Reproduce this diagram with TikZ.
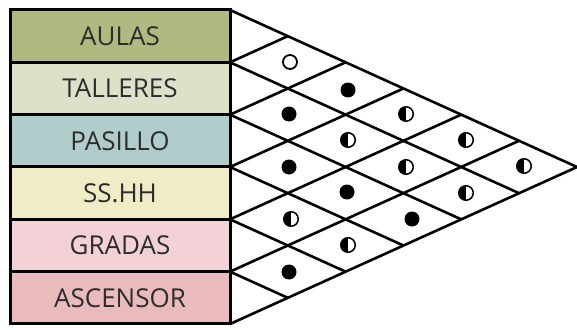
\documentclass[tikz,border=0pt]{standalone}
\usepackage{fontspec}
\setmainfont{Open Sans}
\usepackage{tikz}
\usetikzlibrary{positioning}
\definecolor{aulascol}{RGB}{177,185,128}
\definecolor{tallcol}{RGB}{221,225,200}
\definecolor{pascol}{RGB}{176,205,203}
\definecolor{sshhcol}{RGB}{240,237,198}
\definecolor{gradcol}{RGB}{242,210,214}
\definecolor{asccol}{RGB}{233,187,189}
\definecolor{labeltext}{RGB}{45,45,45}

\begin{document}
\begin{tikzpicture}[
  x=1pt,y=-1pt,
  space/.style={draw=black,line width=3pt,outer sep=0pt,
                minimum width=220pt,minimum height=52.33pt,
                font=\fontsize{26}{30}\selectfont,text=labeltext},
  grid/.style={line width=2.6pt,line join=miter},
  fullmark/.style={circle,fill=black,minimum size=15pt,inner sep=0pt},
  openmark/.style={circle,draw=black,line width=1.8pt,minimum size=14pt,inner sep=0pt},
  halfmark/.style={circle,draw=black,line width=1.5pt,minimum size=14.5pt,inner sep=0pt,
                   path picture={\fill[black] (path picture bounding box.north)
                                 rectangle (path picture bounding box.south west);}},
  node distance=0pt
]
\useasboundingbox (0,0) rectangle (577,329);

% spaces
\node[space,fill=aulascol,anchor=north west] (aulas) at (10,10) {AULAS};
\node[space,fill=tallcol,below=of aulas] (talleres) {TALLERES};
\node[space,fill=pascol,below=of talleres] (pasillo) {PASILLO};
\node[space,fill=sshhcol,below=of pasillo] (sshh) {SS.HH};
\node[space,fill=gradcol,below=of sshh] (gradas) {GRADAS};
\node[space,fill=asccol,below=of gradas] (ascensor) {ASCENSOR};

% matrix
\coordinate (top) at (aulas.north east);
\coordinate (bot) at (ascensor.south east);
\coordinate (apex) at (577,167);
\draw[grid] (top) -- (apex) -- (bot);
\foreach \k in {1,...,5}{
  \draw[grid] (230,{10+52.33*\k}) -- ++({(6-\k)*57.8},{(6-\k)*26.17});
  \draw[grid] (230,{10+52.33*\k}) -- ++({\k*57.8},{-\k*26.17});
}

% relations
\node[openmark] (au-ta) at (290,62) {};
\node[fullmark] (au-pa) at (348,90) {};
\node[halfmark] (au-ss) at (406,114) {};
\node[halfmark] (au-gr) at (466,140) {};
\node[halfmark] (au-as) at (524,166) {};
\node[fullmark] (ta-pa) at (289,114) {};
\node[halfmark] (ta-ss) at (348,140) {};
\node[halfmark] (ta-gr) at (406,167) {};
\node[halfmark] (ta-as) at (466,193) {};
\node[fullmark] (pa-ss) at (289,167) {};
\node[fullmark] (pa-gr) at (347,192) {};
\node[fullmark] (pa-as) at (412,219) {};
\node[halfmark] (ss-gr) at (291,219) {};
\node[halfmark] (ss-as) at (348,245) {};
\node[fullmark] (gr-as) at (289,272) {};
\end{tikzpicture}
\end{document}
